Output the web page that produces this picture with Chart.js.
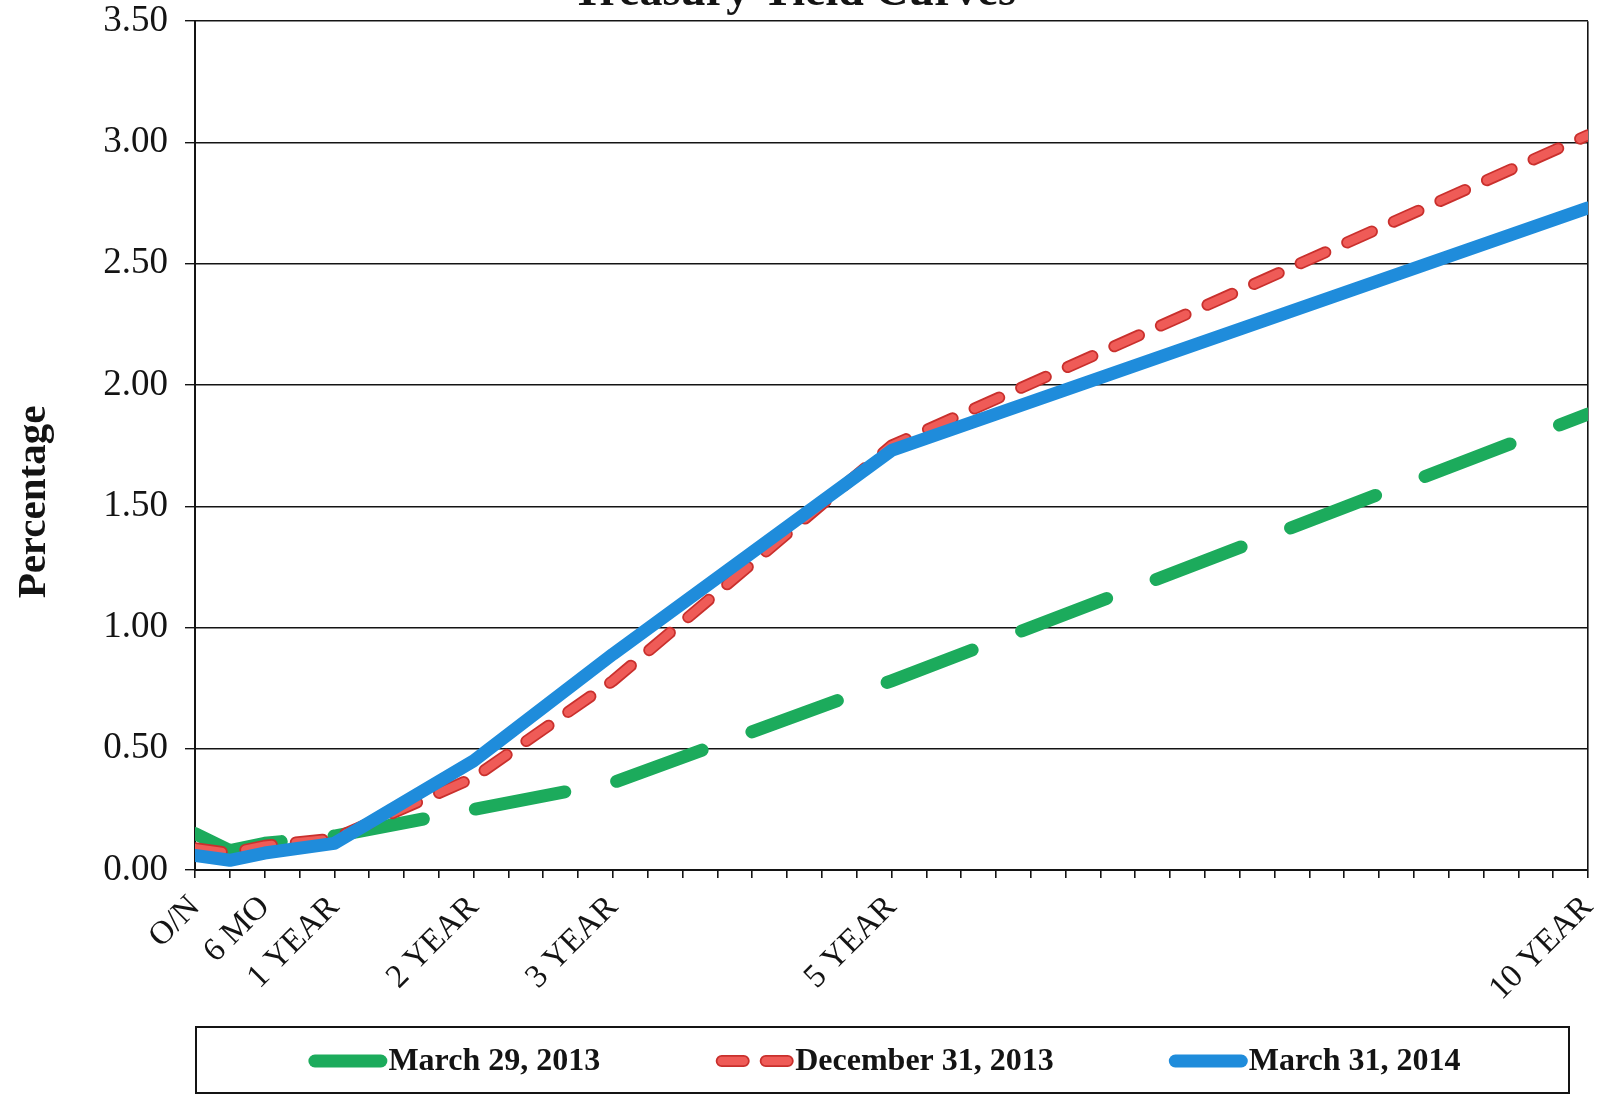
<!DOCTYPE html>
<html>
<head>
<meta charset="utf-8">
<script src="https://cdn.jsdelivr.net/npm/chart.js@4.4.1/dist/chart.umd.min.js"></script>
<style>
  html, body { margin: 0; padding: 0; background: #fff; overflow: hidden; width: 1598px; height: 1096px; }
  #wrap { position: absolute; left: 0; top: -60px; width: 1598px; height: 1156px; }
</style>
</head>
<body>
<div id="wrap"><canvas id="curves" width="1598" height="1156"></canvas></div>
<script>
// Maturities, in months after overnight
const tenorMonths = [0, 3, 6, 12, 24, 36, 60, 120];

// Labelled maturities on the horizontal axis
const tickMonths = [0, 6, 12, 24, 36, 60, 120];
const tickLabels = ['O/N', '6 MO', '1 YEAR', '2 YEAR', '3 YEAR', '5 YEAR', '10 YEAR'];

// Yields (%) per curve date
const seriesNames = ['March 29, 2013', 'December 31, 2013', 'March 31, 2014'];
const yieldsMar2013 = [0.15, 0.08, 0.11, 0.14, 0.25, 0.36, 0.78, 1.88];
const yieldsDec2013 = [0.09, 0.07, 0.10, 0.13, 0.38, 0.78, 1.75, 3.03];
const yieldsMar2014 = [0.06, 0.04, 0.07, 0.11, 0.45, 0.89, 1.73, 2.73];

const SERIF = "'Liberation Serif', 'Times New Roman', serif";
const GREEN = '#1cab5c';
const RED_FILL = '#ef5b57';
const RED_EDGE = '#c9302d';
const BLUE = '#1f8cdb';
const INK = '#141414';

const GREEN_DASH = [91, 53];
const RED_DASH = [27, 24];

const toPoints = vals => tenorMonths.map((m, i) => ({ x: m, y: vals[i] }));

// Axis title drawn beside the value axis
const yTitlePlugin = {
  id: 'yTitle',
  afterDraw(chart) {
    const ctx = chart.ctx;
    ctx.save();
    ctx.translate(34, 562);
    ctx.rotate(-Math.PI / 2);
    ctx.font = 'bold 41px ' + SERIF;
    ctx.fillStyle = INK;
    ctx.textAlign = 'center';
    ctx.textBaseline = 'middle';
    ctx.fillText('Percentage', 0, 0);
    ctx.restore();
  }
};

// Boxed legend below the axis labels: solid samples, except two short pills for the dashed curve
const legendEntries = [
  { name: seriesNames[0], strokes: [{ color: GREEN, width: 13 }], dash: [] },
  { name: seriesNames[1], strokes: [{ color: RED_EDGE, width: 12 }, { color: RED_FILL, width: 8.5 }], dash: [22, 22] },
  { name: seriesNames[2], strokes: [{ color: BLUE, width: 13 }], dash: [] }
];

const legendPlugin = {
  id: 'boxedLegend',
  afterDraw(chart) {
    const ctx = chart.ctx;
    const boxLeft = 196, boxRight = 1569, boxTop = 1087, boxBottom = 1153;
    ctx.save();
    ctx.strokeStyle = INK;
    ctx.lineWidth = 2;
    ctx.strokeRect(boxLeft, boxTop, boxRight - boxLeft, boxBottom - boxTop);

    ctx.font = 'bold 32px ' + SERIF;
    const sampleLen = 66, cap = 6.5, textGap = 1, itemGap = 115;
    const widths = legendEntries.map(e => cap + sampleLen + cap + textGap + ctx.measureText(e.name).width);
    const total = widths.reduce((a, b) => a + b, 0) + itemGap * (legendEntries.length - 1);
    let x = (boxLeft + boxRight) / 2 + 2 - total / 2;
    const cy = 1121;
    legendEntries.forEach((e, i) => {
      const x0 = x + cap, x1 = x0 + sampleLen;
      e.strokes.forEach(s => {
        ctx.beginPath();
        ctx.setLineDash(e.dash);
        ctx.lineCap = 'round';
        ctx.strokeStyle = s.color;
        ctx.lineWidth = s.width;
        ctx.moveTo(x0, cy);
        ctx.lineTo(x1, cy);
        ctx.stroke();
      });
      ctx.setLineDash([]);
      ctx.fillStyle = INK;
      ctx.textAlign = 'left';
      ctx.textBaseline = 'middle';
      ctx.fillText(e.name, x1 + cap + textGap, cy + 1);
      x += widths[i] + itemGap;
    });
    ctx.restore();
  }
};

const lineBase = {
  pointRadius: 0,
  pointHoverRadius: 0,
  tension: 0,
  borderCapStyle: 'round',
  borderJoinStyle: 'round',
  fill: false,
  clip: 0
};

new Chart(document.getElementById('curves'), {
  type: 'line',
  data: {
    datasets: [
      Object.assign({}, lineBase, {
        label: seriesNames[2], data: toPoints(yieldsMar2014),
        borderColor: BLUE, borderWidth: 13, order: 0
      }),
      Object.assign({}, lineBase, {
        label: seriesNames[1], data: toPoints(yieldsDec2013),
        borderColor: RED_FILL, borderWidth: 8.5, borderDash: RED_DASH, order: 1
      }),
      Object.assign({}, lineBase, {
        label: seriesNames[1] + ' edge', data: toPoints(yieldsDec2013),
        borderColor: RED_EDGE, borderWidth: 12, borderDash: RED_DASH, order: 2
      }),
      Object.assign({}, lineBase, {
        label: seriesNames[0], data: toPoints(yieldsMar2013),
        borderColor: GREEN, borderWidth: 13, borderDash: GREEN_DASH, order: 3
      })
    ]
  },
  options: {
    responsive: false,
    animation: false,
    events: [],
    layout: { padding: { top: 0, left: 0, right: 10, bottom: 0 } },
    plugins: {
      legend: { display: false },
      tooltip: { enabled: false },
      title: {
        display: true,
        text: 'Treasury Yield Curves',
        color: INK,
        font: { family: SERIF, size: 46, weight: 'bold', lineHeight: 1.2 },
        padding: { top: 26, bottom: 0 }
      }
    },
    scales: {
      x: {
        type: 'linear',
        min: 0,
        max: 120,
        afterBuildTicks(scale) {
          const t = [];
          for (let m = 0; m <= 120; m += 3) t.push({ value: m });
          scale.ticks = t;
        },
        afterFit(scale) {
          scale.height = 226;
          scale.paddingLeft = 0;
          scale.paddingRight = 0;
        },
        ticks: {
          autoSkip: false,
          minRotation: 45,
          maxRotation: 45,
          padding: 10,
          color: INK,
          font: { family: SERIF, size: 33 },
          callback(value) {
            const k = tickMonths.indexOf(value);
            return k >= 0 ? tickLabels[k] : '';
          }
        },
        grid: {
          drawOnChartArea: true,
          color: ctx => (ctx.tick && ctx.tick.value === 120 ? INK : 'rgba(0,0,0,0)'),
          tickColor: INK,
          tickLength: 8,
          lineWidth: 1.6
        },
        border: { color: INK, width: 2 }
      },
      y: {
        min: 0,
        max: 3.5,
        afterFit(scale) {
          scale.width = 195;
          scale.paddingTop = 0;
          scale.paddingBottom = 0;
        },
        ticks: {
          stepSize: 0.5,
          padding: 17,
          color: INK,
          font: { family: SERIF, size: 37 },
          callback: v => v.toFixed(2)
        },
        grid: {
          color: INK,
          tickColor: INK,
          tickLength: 10,
          lineWidth: 1.4
        },
        border: { color: INK, width: 2 }
      }
    }
  },
  plugins: [yTitlePlugin, legendPlugin]
});
</script>
</body>
</html>
